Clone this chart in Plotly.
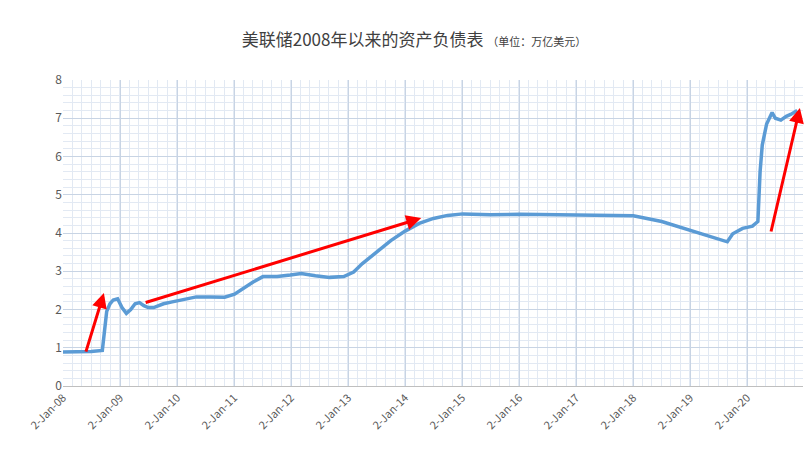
import plotly.graph_objects as go

dates = [
    "2008-01-02", "2008-04-01", "2008-07-01", "2008-09-10", "2008-09-24", "2008-10-08", "2008-10-29",
    "2008-11-19", "2008-12-17", "2009-01-14", "2009-02-11", "2009-03-11", "2009-04-08", "2009-05-06",
    "2009-06-03", "2009-07-01", "2009-08-05", "2009-09-02", "2009-10-07", "2009-12-02", "2010-02-03",
    "2010-05-05", "2010-08-04", "2010-11-03", "2011-01-05", "2011-03-02", "2011-05-04", "2011-07-06",
    "2011-10-05", "2011-12-28", "2012-03-07", "2012-06-06", "2012-09-05", "2012-12-05", "2013-02-06",
    "2013-04-03", "2013-07-03", "2013-10-02", "2014-01-02", "2014-04-02", "2014-07-02", "2014-10-01",
    "2015-01-07", "2015-07-01", "2016-01-06", "2016-07-06", "2017-01-04", "2017-07-05", "2018-01-03",
    "2018-07-04", "2019-01-02", "2019-05-01", "2019-08-28", "2019-10-02", "2019-12-04", "2020-02-05",
    "2020-03-11", "2020-03-25", "2020-04-08", "2020-05-06", "2020-06-10", "2020-07-01", "2020-08-05",
    "2020-09-09", "2020-10-07", "2020-11-18",
]
assets = [
    0.89, 0.89, 0.90, 0.93, 1.50, 1.95, 2.15,
    2.25, 2.28, 2.05, 1.90, 2.00, 2.15, 2.18,
    2.10, 2.05, 2.05, 2.10, 2.15, 2.20, 2.26,
    2.33, 2.33, 2.32, 2.40, 2.55, 2.72, 2.86,
    2.86, 2.90, 2.94, 2.88, 2.84, 2.86, 2.98,
    3.20, 3.50, 3.80, 4.05, 4.25, 4.38, 4.46,
    4.50, 4.48, 4.49, 4.48, 4.47, 4.47, 4.45,
    4.30, 4.08, 3.92, 3.77, 3.98, 4.12, 4.18,
    4.30, 5.60, 6.30, 6.85, 7.15, 7.00, 6.95,
    7.05, 7.10, 7.20,
]

tick_vals = ["2008-01-02", "2009-01-02", "2010-01-02", "2011-01-02", "2012-01-02", "2013-01-02",
             "2014-01-02", "2015-01-02", "2016-01-02", "2017-01-02", "2018-01-02", "2019-01-02",
             "2020-01-02"]
tick_text = ["2-Jan-08", "2-Jan-09", "2-Jan-10", "2-Jan-11", "2-Jan-12", "2-Jan-13", "2-Jan-14",
             "2-Jan-15", "2-Jan-16", "2-Jan-17", "2-Jan-18", "2-Jan-19", "2-Jan-20"]

# arrows: (tail date, tail value, head date, head value)
arrows = [
    ("2008-05-25", 0.86, "2008-09-20", 2.43),
    ("2009-06-05", 2.17, "2014-04-15", 4.39),
    ("2020-06-01", 4.00, "2020-12-05", 7.27),
]

fig = go.Figure(go.Scatter(x=dates, y=assets, mode="lines",
                           line=dict(color="#5b9bd5", width=3.5), hoverinfo="x+y"))

for t_x, t_y, h_x, h_y in arrows:
    fig.add_annotation(x=h_x, y=h_y, ax=t_x, ay=t_y, xref="x", yref="y", axref="x", ayref="y",
                       showarrow=True, arrowhead=2, arrowsize=1, arrowwidth=3, arrowcolor="#ff0000", text="")

fig.update_layout(
    width=812, height=456, template="plotly_white", showlegend=False,
    margin=dict(l=55, r=17, t=72, b=78, pad=0),
    paper_bgcolor="white", plot_bgcolor="white",
    font=dict(family="Noto Sans CJK SC", color="#595959"),
    title=dict(text="美联储2008年以来的资产负债表 <span style='font-size:11px'>（单位：万亿美元）</span>",
               x=0.5, y=0.93, xanchor="center", yanchor="middle", font=dict(size=17, color="#404040")),
    xaxis=dict(range=["2008-01-02", "2020-12-25"], tickvals=tick_vals, ticktext=tick_text,
               tickangle=-45, tickfont=dict(size=11), showgrid=True, gridcolor="#c8d4e4", gridwidth=1,
               minor=dict(dtick=86400000 * 60.875, showgrid=True, gridcolor="#e2e9f3"),
               showline=True, linecolor="#bfbfbf", zeroline=False),
    yaxis=dict(range=[0, 8], dtick=1, tickfont=dict(size=12), showgrid=True, gridcolor="#c8d4e4",
               minor=dict(dtick=0.2, showgrid=True, gridcolor="#e2e9f3"), zeroline=False,
               showline=False),
)

fig.write_html("out.html")
